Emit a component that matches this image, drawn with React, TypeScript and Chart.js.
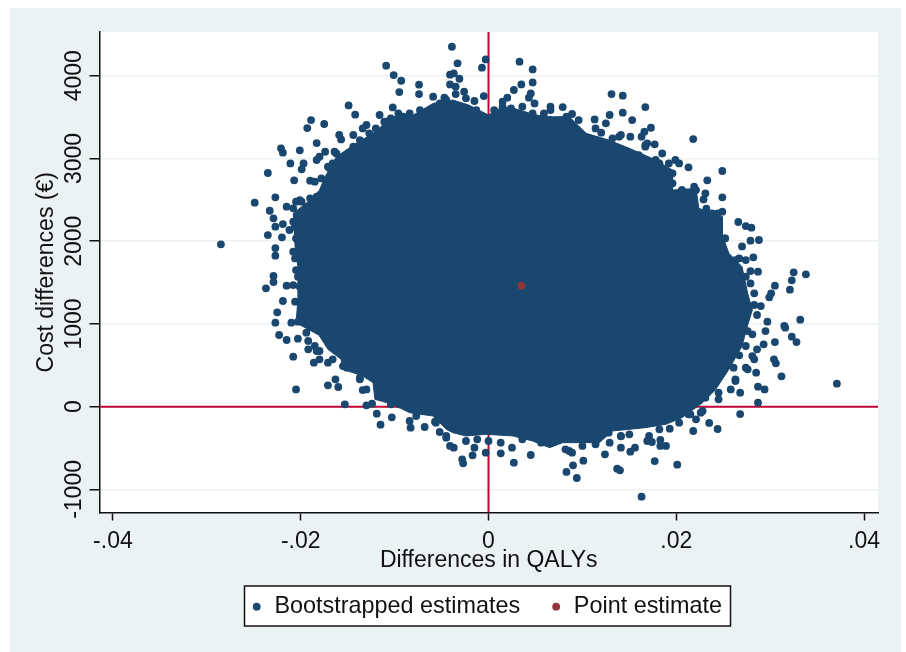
import React, { useEffect, useRef } from "react";
import { Chart, registerables } from "chart.js";

Chart.register(...registerables);

const xTickValues = [-0.04, -0.02, 0, 0.02, 0.04];
const xTickLabels = ["-.04", "-.02", "0", ".02", ".04"];
const yTickValues = [-1000, 0, 1000, 2000, 3000, 4000];
const xBounds = [-0.04143, 0.04148];
const yBounds = [-1279, 4528];
const legendNames = ["Bootstrapped estimates", "Point estimate"];
const xAxisTitle = "Differences in QALYs";
const yAxisTitle = "Cost differences (€)";
const pointEstimate = [[0.0035, 1462]];

// Outline of the saturated core of the bootstrap cloud (QALY, euro)
const cloudCore = [
  [-0.0205,1007],[-0.0203,1289],[-0.0203,1692],[-0.0206,1933],[-0.0208,2336],[-0.019,2497],[-0.018,2618],[-0.0174,2779],
  [-0.0162,3021],[-0.0141,3182],[-0.0123,3303],[-0.0102,3504],[-0.008,3525],[-0.0059,3665],[-0.0038,3706],[-0.0021,3645],
  [0,3525],[0.0015,3625],[0.0027,3605],[0.005,3525],[0.0068,3504],[0.0086,3504],[0.0104,3303],[0.0128,3222],[0.015,3122],
  [0.0174,3001],[0.0196,2860],[0.0196,2618],[0.0221,2638],[0.0224,2397],[0.0249,2296],[0.0249,2074],[0.0256,1853],[0.027,1692],
  [0.0276,1370],[0.0281,1168],[0.0276,987],[0.027,733],[0.0256,451],[0.0242,209],[0.0228,48],[0.0206,-133],[0.0189,-213],
  [0.0167,-254],[0.0132,-294],[0.0118,-435],[0.0079,-435],[0.0065,-495],[0.0047,-415],[0.0026,-354],[-0.0003,-334],[-0.0024,-354],
  [-0.0038,-314],[-0.0045,-274],[-0.0059,-113],[-0.0084,-73],[-0.0102,28],[-0.0121,89],[-0.0123,290],[-0.0134,371],[-0.0155,451],
  [-0.0157,572],[-0.0171,693],[-0.018,854],
];

// Individually visible bootstrap replicates at the rim of the cloud
const upperLeft = [
  [-0.0285,1962],[-0.0249,2465],[-0.0235,2824],[-0.0227,2530],[-0.0233,2368],[-0.0229,2276],[-0.0227,2175],[-0.0219,2207],[-0.0215,2417],
  [-0.0235,2074],[-0.022,2046],[-0.0227,1917],[-0.0227,1825],[-0.0229,1579],[-0.0229,1506],[-0.0237,1430],[-0.0215,1462],[-0.0219,1277],
  [-0.0225,1140],[-0.0227,1015],[-0.0221,3122],[-0.0219,3069],[-0.0201,3098],[-0.0211,2940],[-0.0197,2940],[-0.0199,2868],[-0.0207,2735],
  [-0.0183,3186],[-0.0193,3367],[-0.0189,3464],[-0.0175,3416],[-0.0159,3283],[-0.0157,3230],[-0.0149,3641],[-0.0142,3529],[-0.0109,4121],
  [-0.0101,4008],[-0.0093,3939],[-0.0095,3802],[-0.0074,3891],[-0.0074,3778],[-0.0059,3746],[-0.0047,3734],[-0.0041,4012],[-0.0041,3895],
  [-0.0039,4350],[-0.0174,3081],[-0.018,3021],[-0.0183,2981],[-0.019,2731],[-0.0185,2719],[-0.0199,2477],[-0.0205,2477],[-0.0208,2397],
  [-0.0206,2175],[-0.0205,2034],[-0.0208,1873],[-0.0206,1792],[-0.0205,1651],[-0.0203,1571],[-0.0206,1269],[-0.0198,1128],[-0.021,1015],
  [-0.0162,3061],[-0.0169,2880],[-0.0144,3283],[-0.013,3404],[-0.0116,3525],[-0.0102,3617],[-0.0084,3545],[-0.0134,3363],[-0.0109,3444],
  [-0.0096,3545],[-0.0159,2981],[-0.0144,3142],
];
const upperRight = [
  [-0.0033,4149],[-0.0037,4028],[-0.0031,3963],[-0.0035,3867],[-0.0035,3778],[-0.0026,3806],[-0.0024,3726],[-0.0015,3694],[-0.0005,3754],
  [-0.0003,4197],[-0.0007,4097],[0.0033,4169],[0.0047,4076],[0.0047,3919],[0.0035,3895],[0.0027,3827],[0.0045,3786],[0.0043,3734],
  [0.002,3734],[0.0015,3686],[0.0049,3665],[0.0066,3625],[0.0079,3621],[0.0089,3537],[0.0096,3464],[0.0079,3363],[0.0113,3472],[0.0129,3525],
  [0.0131,3778],[0.0143,3758],[0.0143,3553],[0.0153,3464],[0.0167,3621],[0.0173,3371],[0.0166,3323],[0.0163,3263],[0.0125,3424],[0.0114,3363],
  [0.012,3311],[0.0218,3234],[0.0249,2848],[0.0233,2735],[0.0249,2530],[0.0213,2892],[0.0203,2940],[0.0199,2981],[0.0185,3061],[0.0177,3170],
  [0.0169,3182],[0.0141,3283],[0.0151,3263],[0.0132,3243],[0.0231,2578],[0.0229,2505],[0.0221,2618],[0.0232,2392],[0.0249,2356],[0.0266,2232],
  [0.0274,2183],[0.028,2163],[0.0288,2014],[0.0279,2006],[0.027,1937],[0.0282,1805],[0.0279,1639],[0.0287,1631],[0.0325,1623],[0.0338,1599],
  [0.0323,1527],[0.0321,1414],[0.0305,1462],[0.0301,1370],[0.0299,1321],[0.0279,1490],[0.0283,1370],[0.0261,1349],[0.029,1216],[0.0332,1051],
  [0.0315,975],[0.0189,2820],[0.0182,2900],[0.0167,3142],[0.0178,2981],[0.0196,2699],[0.0206,2618],[0.0238,2336],[0.0252,2034],[0.0267,1792],
  [0.027,1571],[0.0272,1208],
];
const lowerRight = [
  [-0.0037,-495],[-0.0028,-636],[-0.0027,-685],[-0.0017,-588],[-0.0015,-495],[-0.0003,-556],[0,-415],[0.0013,-564],[0.0025,-495],[0.0027,-677],
  [0.0045,-584],[0.0083,-789],[0.009,-709],[0.0094,-862],[0.0101,-653],[0.0089,-556],[0.0082,-516],[0.0124,-576],[0.0137,-749],[0.014,-769],
  [0.0141,-495],[0.0141,-358],[0.0151,-544],[0.0156,-495],[0.0129,-435],[0.0177,-657],[0.0201,-701],[0.0163,-1088],[0.0183,-403],[0.0183,-475],
  [0.0189,-475],[0.0169,-415],[0.0174,-427],[0.0193,-266],[0.0218,-294],[0.0221,-153],[0.0235,-197],[0.0244,-270],[0.0268,-89],[0.0287,48],
  [0.0268,169],[0.0258,209],[0.0287,242],[0.0294,209],[0.0312,367],[0.0371,278],[0.0304,572],[0.0306,524],[0.0283,572],[0.0263,330],[0.0276,451],
  [0.0285,411],[0.0267,620],[0.0286,693],[0.0293,753],[0.0305,781],[0.0323,846],[0.0328,781],[0.0316,955],[0.0281,874],[0.0295,914],[0.0245,89],
  [0.0228,-52],[0.0215,-93],
];
const lowerLeft = [
  [-0.0223,866],[-0.0215,806],[-0.0203,822],[-0.0208,604],[-0.0186,532],[-0.0205,209],[-0.0163,330],[-0.0171,258],[-0.016,238],[-0.0153,28],
  [-0.0119,-85],[-0.0115,-218],[-0.0103,-129],[-0.013,16],[-0.0124,36],[-0.0084,-173],[-0.0083,-254],[-0.0068,-246],[-0.0057,-181],[-0.0052,-306],
  [-0.0041,-475],[-0.0137,330],[-0.0134,201],[-0.0192,693],[-0.0183,673],[-0.0171,532],[-0.0155,491],[-0.018,572],[-0.0045,-375],
];
// Clumps of replicates that merge with the core along its edge
const rimClumps = [
  [-0.0201,2497],[-0.019,2518],[-0.0183,2538],[-0.0178,2759],[-0.0171,2900],[-0.0166,2940],[-0.0155,2940],[-0.0151,3041],[-0.0164,3081],
  [-0.0137,3222],[-0.0127,3303],[-0.012,3363],[-0.0111,3444],[-0.0104,3484],[-0.0091,3504],[-0.0073,3585],[-0.0052,3665],[-0.0045,3706],
  [-0.0208,2236],[-0.0212,2135],[-0.0203,2135],[-0.0203,2014],[-0.0199,1813],[-0.0199,1651],[-0.0208,1470],[-0.0201,1450],[-0.0199,1269],
  [-0.0196,1047],[-0.0189,1088],[-0.0203,1027],[-0.0192,1015],[-0.018,1015],
  [-0.0031,3585],[-0.0024,3605],[-0.0013,3585],[0.0006,3585],[0.0015,3625],[0.0024,3605],[0.0036,3625],[0.0047,3545],[0.0059,3545],[0.0066,3585],
  [0.0083,3504],[0.0093,3323],[0.0114,3222],[0.0139,3263],[0.0167,3162],[0.016,3041],[0.0182,2940],[0.0192,2940],[0.0196,2820],[0.0192,2679],
  [0.0206,2618],[0.0219,2658],[0.0244,2336],[0.0245,2236],[0.0252,2034],[0.0263,1772],[0.0274,1772],[0.0274,1571],[0.0276,1168],[0.0283,1229],
  [0.0297,1027],[0.0286,1108],
  [0.0276,914],[0.0274,733],[0.0281,612],[0.0261,471],[0.0274,471],[0.0263,310],[0.0245,169],[0.0231,109],[0.0226,-73],[0.0213,-93],[0.0203,-193],
  [0.0182,-274],[0.0171,-354],[0.015,-334],[0.0141,-354],[0.0128,-314],[0.0114,-455],[0.01,-475],[0.0086,-536],[0.0013,-435],[0.0036,-395],
  [0.0056,-435],[-0.0012,-395],[-0.0024,-415],
  [-0.0045,-354],[-0.0056,-193],[-0.0077,-113],[-0.0095,28],[-0.0104,28],[-0.0116,129],[-0.013,209],[-0.0137,350],[-0.0151,471],[-0.0166,572],
  [-0.018,673],[-0.0185,733],[-0.0192,794],[-0.0194,894],
];
const bootstrapReplicates = [...upperLeft, ...upperRight, ...lowerRight, ...lowerLeft, ...rimClumps];

const NAVY = "#1a476f";
const MAROON = "#90353b";
const CRANBERRY = "#c10534";
const PANEL = "#eaf2f3";
const FONT = "'Liberation Sans', Arial, sans-serif";

const toXY = (pairs: number[][]) => pairs.map(([x, y]) => ({ x, y }));

const framePlugin = {
  id: "stataFrame",
  afterLayout(chart: any) {
    chart.legend.left = 220.7;
    chart.legend.top = 565;
  },
  beforeDraw(chart: any) {
    const { ctx, chartArea: a } = chart;
    ctx.save();
    ctx.fillStyle = PANEL;
    ctx.fillRect(10, 8, 891, 644);
    ctx.fillStyle = "#ffffff";
    ctx.fillRect(a.left, a.top, a.right - a.left, a.bottom - a.top);
    ctx.fillRect(244.5, 586, 486, 40);
    ctx.strokeStyle = "#111111";
    ctx.lineWidth = 1.5;
    ctx.strokeRect(244.5, 586, 486, 40);
    ctx.restore();
  },
};

export default function App() {
  const ref = useRef<HTMLCanvasElement | null>(null);
  useEffect(() => {
    if (!ref.current) return;
    const chart = new Chart(ref.current, {
      type: "scatter",
      plugins: [framePlugin],
      data: {
        datasets: [
          {
            label: legendNames[0],
            data: toXY(bootstrapReplicates),
            backgroundColor: NAVY,
            borderColor: NAVY,
            borderWidth: 0,
            pointRadius: 3.9,
            pointStyle: "circle",
            order: 2,
          },
          {
            label: legendNames[1],
            data: toXY(pointEstimate),
            backgroundColor: MAROON,
            borderColor: MAROON,
            borderWidth: 0,
            pointRadius: 3.9,
            pointStyle: "circle",
            order: 1,
          },
          {
            label: "Cloud core",
            data: toXY(cloudCore),
            showLine: true,
            fill: "shape",
            tension: 0,
            backgroundColor: NAVY,
            borderColor: NAVY,
            borderWidth: 1,
            pointRadius: 0,
            order: 3,
          },
          {
            label: "Zero cost",
            data: [{ x: xBounds[0], y: 0 }, { x: xBounds[1], y: 0 }],
            showLine: true,
            borderColor: CRANBERRY,
            backgroundColor: CRANBERRY,
            borderWidth: 2,
            pointRadius: 0,
            order: 4,
          },
          {
            label: "Zero effect",
            data: [{ x: 0, y: yBounds[0] }, { x: 0, y: yBounds[1] }],
            showLine: true,
            borderColor: CRANBERRY,
            backgroundColor: CRANBERRY,
            borderWidth: 2,
            pointRadius: 0,
            order: 4,
          },
        ],
      } as any,
      options: {
        responsive: false,
        animation: false,
        layout: { padding: { top: 32, right: 28, left: 0, bottom: 0 } },
        plugins: {
          tooltip: { enabled: false },
          legend: {
            display: true,
            position: "bottom",
            align: "start",
            labels: {
              usePointStyle: true,
              boxWidth: 12,
              boxHeight: 5.5,
              padding: 30,
              color: "#111111",
              font: { family: FONT, size: 23.4 },
              filter: (item: any) => legendNames.includes(item.text),
              sort: (a: any, b: any) => a.datasetIndex - b.datasetIndex,
            },
          },
        },
        scales: {
          x: {
            type: "linear",
            min: xBounds[0],
            max: xBounds[1],
            afterBuildTicks: (s: any) => {
              s.ticks = xTickValues.map((value) => ({ value }));
            },
            afterFit: (s: any) => {
              s.height = 76.1;
            },
            ticks: {
              autoSkip: false,
              maxRotation: 0,
              padding: 7,
              color: "#111111",
              font: { family: FONT, size: 23 },
              callback: (v: any) => xTickLabels[xTickValues.indexOf(v)] ?? "",
            },
            grid: { drawOnChartArea: false, tickLength: 8, tickColor: "#111111", tickWidth: 1.5 },
            border: { color: "#111111", width: 1.5 },
            title: {
              display: true,
              text: xAxisTitle,
              color: "#111111",
              font: { family: FONT, size: 23 },
              padding: { top: 0, bottom: 14.6 },
            },
          },
          y: {
            type: "linear",
            min: yBounds[0],
            max: yBounds[1],
            afterBuildTicks: (s: any) => {
              s.ticks = yTickValues.map((value) => ({ value }));
            },
            afterFit: (s: any) => {
              s.width = 99.5;
            },
            ticks: {
              autoSkip: false,
              minRotation: 90,
              maxRotation: 90,
              crossAlign: "center",
              padding: -15,
              color: "#111111",
              font: { family: FONT, size: 23 },
              callback: (v: any) => String(v),
            },
            grid: { color: PANEL, lineWidth: 1.5, tickLength: 10, tickColor: "#111111", tickWidth: 1.5 },
            border: { color: "#111111", width: 1.5 },
            title: {
              display: true,
              text: yAxisTitle,
              color: "#111111",
              font: { family: FONT, size: 23 },
              padding: { top: 33, bottom: 0 },
            },
          },
        },
      } as any,
    });
    return () => chart.destroy();
  }, []);
  return (
    <div style={{ position: "absolute", left: 0, top: 0, width: 906, height: 652 }}>
      <canvas ref={ref} width={906} height={652} style={{ display: "block" }} />
    </div>
  );
}
